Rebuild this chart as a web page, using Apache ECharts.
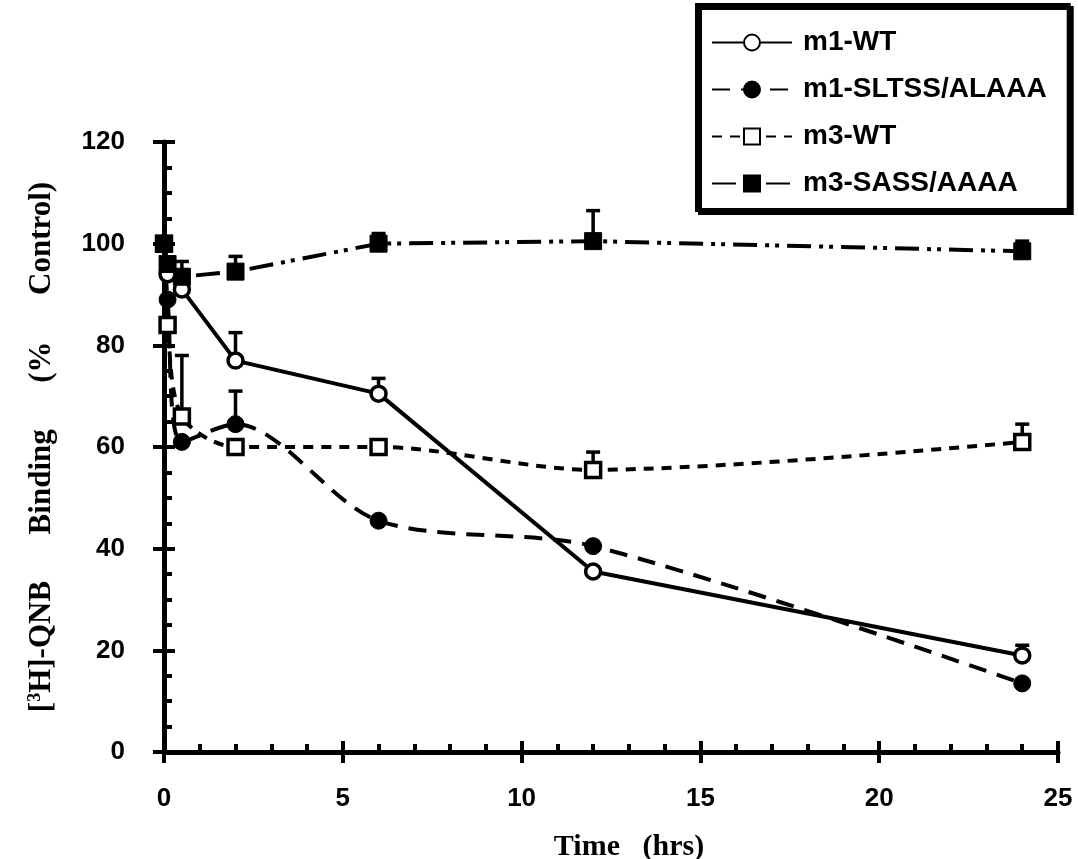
<!DOCTYPE html>
<html>
<head>
<meta charset="utf-8">
<script src="https://cdn.jsdelivr.net/npm/echarts@6/dist/echarts.min.js"></script>
<style>
  html, body { margin: 0; padding: 0; background: #fff; }
  #main { width: 1078px; height: 859px; }
</style>
</head>
<body>
<div id="main"></div>
<script>
// time points (hrs)
var times = [0, 0.1, 0.5, 2, 6, 12, 24];
// % control values
var m1WT = [100, 94, 91, 77, 70.5, 35.5, 19];
var m1Mut = [100, 89, 61, 64.5, 45.5, 40.5, 13.5];
var m3WT = [100, 84, 66, 60, 60, 55.5, 61];
var m3Mut = [100, 96, 93.5, 94.5, 100, 100.5, 98.5];
// upper error bars (0 = none visible)
var m1WTErr = [0, 0, 0, 5.5, 3, 0, 2];
var m1MutErr = [0, 0, 0, 6.5, 0, 0, 0];
var m3WTErr = [0, 0, 12, 0, 0, 3.5, 3.5];
var m3MutErr = [0, 0, 3, 3, 2, 6, 2];

function pairs(vals) {
  return times.map(function (t, i) { return [t, vals[i]]; });
}
function errData(vals, errs) {
  var out = [];
  times.forEach(function (t, i) {
    if (errs[i] > 0) out.push([t, vals[i], vals[i] + errs[i]]);
  });
  return out;
}

var myChart = echarts.init(document.getElementById('main'));

// error bar: vertical stem + cap, drawn behind the markers
function errSeries(vals, errs) {
  return {
    type: 'custom',
    silent: true,
    z: 1,
    data: errData(vals, errs),
    renderItem: function (params, api) {
      var p0 = api.coord([api.value(0), api.value(1)]);
      var p1 = api.coord([api.value(0), api.value(2)]);
      var st = { stroke: '#000', lineWidth: 3.5 };
      return {
        type: 'group',
        children: [
          { type: 'line', shape: { x1: p0[0], y1: p0[1], x2: p1[0], y2: p1[1] }, style: st },
          { type: 'line', shape: { x1: p1[0] - 7, y1: p1[1], x2: p1[0] + 7, y2: p1[1] }, style: st }
        ]
      };
    }
  };
}

var axisFont = { fontFamily: 'Liberation Sans', fontWeight: 'bold', fontSize: 26, color: '#000' };

var option = {
  animation: false,
  backgroundColor: '#fff',
  grid: { left: 164, right: 20, top: 142, bottom: 107, containLabel: false, outerBoundsMode: 'none' },
  legend: {
    orient: 'vertical',
    left: 697,
    top: 5,
    padding: [23, 22, 12, 14],
    itemWidth: 80,
    itemHeight: 20,
    itemGap: 18,
    borderColor: '#000',
    borderWidth: 4,
    shadowColor: '#000',
    shadowOffsetX: 3,
    shadowOffsetY: 3,
    shadowBlur: 0,
    backgroundColor: '#fff',
    textStyle: { fontFamily: 'Liberation Sans', fontWeight: 'bold', fontSize: 28, lineHeight: 29, color: '#000', padding: [0, 0, 0, 6] },
    data: ['m1-WT', 'm1-SLTSS/ALAAA', 'm3-WT', 'm3-SASS/AAAA']
  },
  xAxis: [{
    type: 'value',
    min: 0, max: 25, interval: 5,
    name: 'Time   (hrs)',
    nameLocation: 'middle',
    nameGap: 80,
    nameTextStyle: { fontFamily: 'Liberation Serif', fontWeight: 'bold', fontSize: 30, color: '#000', padding: [0, 0, 0, 36] },
    axisLine: { lineStyle: { color: '#000', width: 5 } },
    axisTick: { inside: true, length: 11, lineStyle: { color: '#000', width: 4 } },
    minorTick: { show: true, splitNumber: 5, length: 8, lineStyle: { color: '#000', width: 4 } },
    axisLabel: Object.assign({ margin: 34 }, axisFont),
    splitLine: { show: false }
  }, {
    type: 'value',
    min: 0, max: 25, interval: 5,
    position: 'bottom',
    axisLine: { show: false },
    axisTick: { inside: false, length: 11, lineStyle: { color: '#000', width: 4 } },
    axisLabel: { show: false },
    splitLine: { show: false }
  }],
  yAxis: [{
    type: 'value',
    min: 0, max: 120, interval: 20,
    name: '[{sup|3}H]-QNB      Binding      (%      Control)',
    nameLocation: 'middle',
    nameGap: 107,
    nameTextStyle: {
      fontFamily: 'Liberation Serif', fontWeight: 'bold', fontSize: 31, color: '#000',
      padding: [0, 0, 0, 0],
      rich: { sup: { fontFamily: 'Liberation Serif', fontWeight: 'bold', fontSize: 18, verticalAlign: 'top', color: '#000', padding: [0, 0, 12, 0] } }
    },
    axisLine: { lineStyle: { color: '#000', width: 5 } },
    axisTick: { inside: true, length: 11, lineStyle: { color: '#000', width: 4 } },
    minorTick: { show: true, splitNumber: 4, length: 8, lineStyle: { color: '#000', width: 4 } },
    axisLabel: Object.assign({ margin: 39, padding: [14, 0, 0, 0] }, axisFont),
    splitLine: { show: false }
  }, {
    type: 'value',
    min: 0, max: 120, interval: 20,
    position: 'left',
    axisLine: { show: false },
    axisTick: { inside: false, length: 11, lineStyle: { color: '#000', width: 4 } },
    axisLabel: { show: false },
    splitLine: { show: false }
  }],
  series: [
    errSeries(m1WT, m1WTErr),
    errSeries(m1Mut, m1MutErr),
    errSeries(m3WT, m3WTErr),
    errSeries(m3Mut, m3MutErr),
    {
      name: 'm1-WT',
      type: 'line',
      z: 3,
      data: pairs(m1WT),
      symbol: 'circle',
      symbolSize: 15,
      itemStyle: { color: '#fff', borderColor: '#000', borderWidth: 3.5 },
      lineStyle: { color: '#000', width: 4, type: 'solid' }
    },
    {
      name: 'm1-SLTSS/ALAAA',
      type: 'line',
      z: 3,
      smooth: 0.3,
      data: pairs(m1Mut),
      symbol: 'circle',
      symbolSize: 17,
      itemStyle: { color: '#000', borderColor: '#000', borderWidth: 1 },
      lineStyle: { color: '#000', width: 4, type: [18, 11] }
    },
    {
      name: 'm3-WT',
      type: 'line',
      z: 3,
      smooth: 0.3,
      data: pairs(m3WT),
      symbol: 'rect',
      symbolSize: 15,
      itemStyle: { color: '#fff', borderColor: '#000', borderWidth: 3.5 },
      lineStyle: { color: '#000', width: 4, type: [10, 8] }
    },
    {
      name: 'm3-SASS/AAAA',
      type: 'line',
      z: 3,
      data: pairs(m3Mut),
      symbol: 'rect',
      symbolSize: 17,
      itemStyle: { color: '#000', borderColor: '#000', borderWidth: 1 },
      lineStyle: { color: '#000', width: 4, type: [24, 8, 4, 6, 4, 8] }
    }
  ]
};

myChart.setOption(option);
</script>
</body>
</html>
